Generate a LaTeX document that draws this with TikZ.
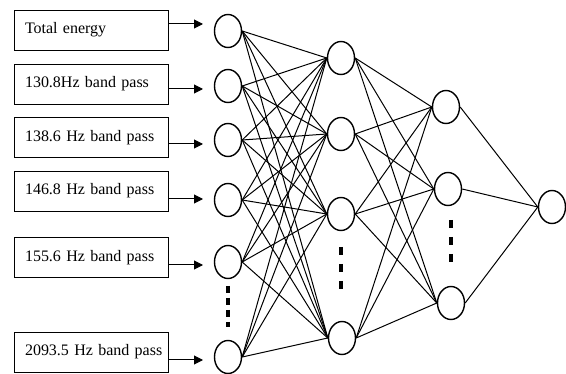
\documentclass[tikz,border=0pt]{standalone}
\usepackage{fontspec}
\setmainfont{Liberation Serif}
\usetikzlibrary{shapes.geometric,arrows.meta}
\begin{document}
\begin{tikzpicture}[x=1pt,y=-1pt,
 box/.style={draw,line width=0.9pt,rectangle,minimum width=154pt,minimum height=40pt,text width=132pt,inner xsep=11pt,align=left,font=\fontsize{16}{18}\selectfont},
 neuron/.style={draw,line width=1.4pt,ellipse,minimum width=27pt,minimum height=33pt,inner sep=0pt},
 link/.style={line width=1pt},
 feed/.style={line width=1pt,-{Triangle[length=9pt,width=9pt]}},
 dotsA/.style={line width=3.5pt,dash pattern=on 7pt off 5pt},
 dotsB/.style={line width=3.5pt,dash pattern=on 8pt off 9pt}]
\useasboundingbox (0,0) rectangle (566,374);
% input boxes
\node[box] (b1) at (91,30) {\mbox{Total energy}};
\node[box] (b2) at (91,84) {\mbox{130.8Hz band pass}};
\node[box] (b3) at (91,137.5) {\mbox{138.6 Hz band pass}};
\node[box] (b4) at (91,191) {\mbox{146.8 Hz band pass}};
\node[box] (b5) at (91,257.5) {\mbox{155.6 Hz band pass}};
\node[box] (b6) at (91,352) {\mbox{2093.5 Hz band pass}};
% input neurons
\node[neuron] (i1) at (228,31) {};
\node[neuron] (i2) at (228,86) {};
\node[neuron] (i3) at (228,140) {};
\node[neuron] (i4) at (228,200) {};
\node[neuron] (i5) at (228,262) {};
\node[neuron] (i6) at (228,357) {};
% hidden layer 1
\node[neuron] (h1) at (341,58) {};
\node[neuron] (h2) at (341,134) {};
\node[neuron] (h3) at (341,214) {};
\node[neuron] (h4) at (342,338) {};
% hidden layer 2
\node[neuron] (g1) at (446,107) {};
\node[neuron] (g2) at (448,189) {};
\node[neuron] (g3) at (451,303) {};
% output
\node[neuron] (o) at (552,207) {};
% arrow tips
\coordinate (a1) at (203,24);
\coordinate (a2) at (203,89);
\coordinate (a3) at (203,144);
\coordinate (a4) at (203,199);
\coordinate (a5) at (203,265);
\coordinate (a6) at (203,360);
\foreach \k in {1,...,6} \draw[feed] (b\k.east |- a\k) -- (a\k);
% links
\foreach \i in {1,...,6} \foreach \j in {1,...,4} \draw[link] (i\i.east) -- (h\j.west);
\foreach \i in {1,...,4} \foreach \j in {1,...,3} \draw[link] (h\i.east) -- (g\j.west);
\foreach \j in {1,...,3} \draw[link] (g\j.east) -- (o.west);
% ellipsis dots
\draw[dotsA] (228,286) -- (228,327);
\draw[dotsB] (341,247) -- (341,290);
\draw[dotsB] (451,220) -- (451,262);
\end{tikzpicture}
\end{document}
